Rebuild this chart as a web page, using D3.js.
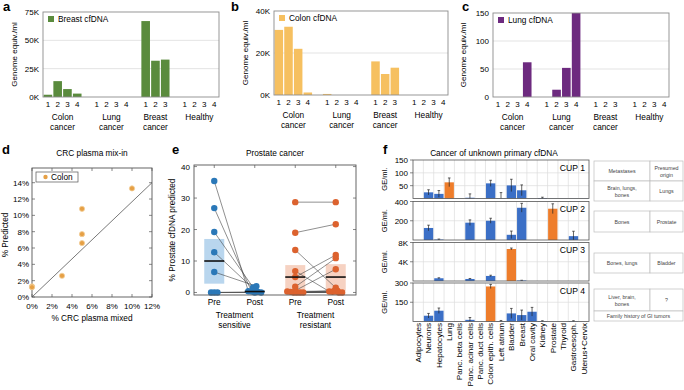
<!DOCTYPE html>
<html>
<head>
<meta charset="utf-8">
<script src="https://cdn.jsdelivr.net/npm/d3@7"></script>
<style>
body { margin: 0; background: #fff; }
svg { font-family: "Liberation Sans", Arial, Helvetica, sans-serif; }
</style>
</head>
<body>
<svg id="fig" width="684" height="390"></svg>
<script>
// ---- data: panels a-c (genome equivalents / ml) ----
const groupNames = [["Colon", "cancer"], ["Lung", "cancer"], ["Breast", "cancer"], ["Healthy"]];
const breastCf = [[2, 14, 7, 3], [0, 0, 0, 0], [67, 32, 33], [0, 0, 0, 0]];         // thousands
const colonCf  = [[31, 32.5, 22, 1.2], [0.5, 0, 0, 0], [16, 10, 13], [0, 0, 0, 0]];  // thousands
const lungCf   = [[0, 0, 0, 62], [0, 13, 52, 150], [0, 0, 0], [0, 0, 0, 0]];
const ticksA = [0, 25, 50, 75];
const ticksB = [0, 20, 40];
const ticksC = [0, 50, 100, 150];

// ---- data: panel d ----
const mixPct  = [0, 0, 3, 5, 5, 5, 10];
const predPct = [1.3, 1.2, 2.6, 6.6, 7.7, 10.8, 13.3];
const refLine = [[0, 0], [12, 14]];
const dTicksX = [0, 2, 4, 6, 8, 10, 12];
const dTicksY = [0, 2, 4, 6, 8, 10, 12, 14];

// ---- data: panel e ----
const eCats = ["sPre", "sPost", "rPre", "rPost"];
const eCatLabels = ["Pre", "Post", "Pre", "Post"];
const sensPre  = [35.4, 26.8, 19.2, 12.8, 6.5, 0, 0, 0];
const sensPost = [0.4, 0.3, 1.6, 0.8, 2.0, 0, 0.2, 0];
const resPre   = [28.7, 19.0, 13.5, 6.8, 4.9, 1.8, 0.6, 0.3, 0.2, 0, 0, 0, 0];
const resPost  = [28.7, 21.7, 1.5, 0.3, 11.9, 10.9, 7.4, 0.5, 0.2, 0.6, 0.3, 0, 0];
const boxLo  = [2.8, 0, 0.5, 0.5];
const boxHi  = [17, 0.8, 8.7, 9.0];
const boxMed = [10, 0.3, 4.9, 4.9];
const eTicks = [0, 10, 20, 30, 40];

// ---- data: panel f ----
const tissues = ["Adipocytes", "Neurons", "Hepatocytes", "Lung", "Panc. beta cells", "Panc. acinar cells",
  "Panc. duct cells", "Colon epith. cells", "Left atrium", "Bladder", "Breast", "Oral cavity", "Kidney",
  "Prostate", "Thyroid", "Gastroesoph.", "Uterus+Cervix"];
const cupNames = ["CUP 1", "CUP 2", "CUP 3", "CUP 4"];
const cup1 = [0, 24, 18, 63, 0.5, 3, 0.5, 59, 1, 51, 32, 0.5, 2, 0.5, 0.5, 0.5, 0.5];
const cup2 = [0, 125, 5, 0, 0, 180, 0, 200, 0, 54, 335, 0, 0, 325, 0, 40, 0];
const cup3 = [0, 0, 0.57, 0, 0, 0.42, 0, 1.05, 0, 6.65, 0.1, 0, 0, 0, 0, 0, 0];   // thousands
const cup4 = [0, 45, 84, 0, 0, 13, 0, 273, 3, 63, 50, 76, 3, 0, 0, 3, 0];
const cup1Err = [0, 10, 13, 17, 0, 15, 0, 12, 22, 24, 21, 0, 3, 0, 0, 0, 0];
const cup2Err = [0, 29, 5, 0, 0, 29, 0, 26, 0, 39, 46, 0, 0, 51, 0, 51, 0];
const cup3Err = [0, 0, 0.1, 0, 0, 0.1, 0, 0.15, 0, 0.2, 0.05, 0, 0, 0, 0, 0, 0];
const cup4Err = [0, 18, 21, 0, 0, 18, 0, 16, 5, 39, 39, 34, 3, 0, 0, 3, 0];
const cupTop = ["Lung", "Prostate", "Bladder", "Colon epith. cells"];
const cupMax = [150, 400, 8, 300];
const cupTicks = [[50, 100, 150], [200, 400], [4, 8], [150, 300]];
const cupTickSuffix = ["", "", "K", ""];
const cupMets = [["Brain, lungs,", "bones"], ["Bones"], ["Bones, lungs"], ["Liver, brain,", "bones"]];
const cupOrigin = ["Lungs", "Prostate", "Bladder", "?"];

const svg = d3.select("#fig");
const FS = 8.3;
const gridCol = "#dcdcdc";
const frameCol = "#8c8c8c";

function letter(t, x, y) {
  svg.append("text").attr("x", x).attr("y", y).attr("font-size", 13).attr("font-weight", "bold").text(t);
}

// ================= panels a, b, c =================
function cfPanel(o) {
  const slots = [];
  o.values.forEach((grp, gi) => {
    grp.forEach((v, si) => slots.push({ key: gi + "-" + si, g: gi, n: si + 1, v: v }));
    if (gi < o.values.length - 1) slots.push({ key: "gap" + gi, gap: true });
  });
  const max = o.ticks[o.ticks.length - 1];
  const x = d3.scaleBand().domain(slots.map(d => d.key)).range([o.x0, o.x1]).paddingInner(0.12).paddingOuter(0.06);
  const y = d3.scaleLinear().domain([0, max]).range([o.y1, o.y0]);
  const g = svg.append("g");

  g.selectAll(".grid").data(o.ticks.slice(1, -1)).enter().append("line")
    .attr("x1", o.x0).attr("x2", o.x1).attr("y1", d => y(d)).attr("y2", d => y(d))
    .attr("stroke", gridCol).attr("stroke-width", 0.8);

  const real = slots.filter(d => !d.gap);
  g.selectAll("rect.bar").data(real.filter(d => d.v > 0)).enter().append("rect")
    .attr("x", d => x(d.key)).attr("width", x.bandwidth())
    .attr("y", d => y(Math.min(d.v, max))).attr("height", d => y(0) - y(Math.min(d.v, max)))
    .attr("fill", o.color);

  g.append("rect").attr("x", o.x0).attr("y", o.y0).attr("width", o.x1 - o.x0).attr("height", o.y1 - o.y0)
    .attr("fill", "none").attr("stroke", frameCol).attr("stroke-width", 0.9);

  g.selectAll(".yt").data(o.ticks).enter().append("text")
    .attr("x", o.x0 - 4).attr("y", d => y(d) + 3).attr("text-anchor", "end").attr("font-size", 8)
    .text(d => d + o.suffix);

  g.selectAll(".xt").data(real).enter().append("text")
    .attr("x", d => x(d.key) + x.bandwidth() / 2).attr("y", o.y1 + 9.5).attr("text-anchor", "middle")
    .attr("font-size", 8).text(d => d.n);

  groupNames.forEach((lines, gi) => {
    const gs = real.filter(d => d.g === gi);
    const cx = d3.mean(gs, d => x(d.key) + x.bandwidth() / 2);
    lines.forEach((ln, li) => {
      g.append("text").attr("x", cx).attr("y", o.y1 + 23 + li * 10).attr("text-anchor", "middle")
        .attr("font-size", FS).text(ln);
    });
  });

  g.append("text").attr("transform", `translate(${o.labelX},${(o.y0 + o.y1) / 2}) rotate(-90)`)
    .attr("text-anchor", "middle").attr("font-size", 8).text("Genome equiv./ml");

  g.append("rect").attr("x", o.x0 + 5).attr("y", o.y0 + 4).attr("width", 6).attr("height", 6).attr("fill", o.color);
  g.append("text").attr("x", o.x0 + 15).attr("y", o.y0 + 10).attr("font-size", FS).text(o.legend);
}

letter("a", 3, 11);
cfPanel({ values: breastCf, ticks: ticksA, suffix: "K", x0: 43, x1: 219, y0: 12, y1: 97,
  color: "#5a8b3d", legend: "Breast cfDNA", labelX: 17 });
letter("b", 231, 11);
cfPanel({ values: colonCf, ticks: ticksB, suffix: "K", x0: 274, x1: 448, y0: 11, y1: 95,
  color: "#f6c060", legend: "Colon cfDNA", labelX: 248 });
letter("c", 462, 11);
cfPanel({ values: lungCf, ticks: ticksC, suffix: "", x0: 493, x1: 669, y0: 13, y1: 97,
  color: "#6d2a7f", legend: "Lung cfDNA", labelX: 466 });

// ================= panel d =================
letter("d", 2, 154);
const xd = d3.scaleLinear().domain([0, 12]).range([32, 152]);
const yd = d3.scaleLinear().domain([0, 15.8]).range([297, 168]);
const gd = svg.append("g");
gd.append("text").attr("x", 92).attr("y", 156).attr("text-anchor", "middle").attr("font-size", FS).text("CRC plasma mix-in");
gd.append("rect").attr("x", 32).attr("y", 168).attr("width", 120).attr("height", 129)
  .attr("fill", "none").attr("stroke", "#555").attr("stroke-width", 0.9);
dTicksX.forEach(t => {
  gd.append("line").attr("x1", xd(t)).attr("x2", xd(t)).attr("y1", 297).attr("y2", 294).attr("stroke", "#555").attr("stroke-width", 0.7);
  gd.append("line").attr("x1", xd(t)).attr("x2", xd(t)).attr("y1", 168).attr("y2", 171).attr("stroke", "#555").attr("stroke-width", 0.7);
  gd.append("text").attr("x", xd(t)).attr("y", 309).attr("text-anchor", "middle").attr("font-size", 8).text(t + "%");
});
dTicksY.forEach(t => {
  gd.append("line").attr("x1", 32).attr("x2", 35).attr("y1", yd(t)).attr("y2", yd(t)).attr("stroke", "#555").attr("stroke-width", 0.7);
  gd.append("line").attr("x1", 152).attr("x2", 149).attr("y1", yd(t)).attr("y2", yd(t)).attr("stroke", "#555").attr("stroke-width", 0.7);
  gd.append("text").attr("x", 29).attr("y", yd(t) + 3).attr("text-anchor", "end").attr("font-size", 8).text(t + "%");
});
gd.append("line").attr("x1", xd(refLine[0][0])).attr("y1", yd(refLine[0][1]))
  .attr("x2", xd(refLine[1][0])).attr("y2", yd(refLine[1][1])).attr("stroke", "#555").attr("stroke-width", 0.8);
gd.selectAll("circle").data(mixPct).enter().append("circle")
  .attr("cx", d => xd(d)).attr("cy", (d, i) => yd(predPct[i])).attr("r", 2.6)
  .attr("fill", "#e6a045").attr("stroke", "#f3cf9a").attr("stroke-width", 0.8);
gd.append("rect").attr("x", 36).attr("y", 172).attr("width", 42).attr("height", 10)
  .attr("fill", "#fff").attr("stroke", "#555").attr("stroke-width", 0.7);
gd.append("circle").attr("cx", 45.5).attr("cy", 177).attr("r", 2.2).attr("fill", "#e6a045");
gd.append("text").attr("x", 51).attr("y", 180).attr("font-size", FS).text("Colon");
gd.append("text").attr("x", 92).attr("y", 321).attr("text-anchor", "middle").attr("font-size", FS).text("% CRC plasma mixed");
gd.append("text").attr("transform", "translate(8,235) rotate(-90)").attr("text-anchor", "middle").attr("font-size", FS).text("% Predicted");

// ================= panel e =================
letter("e", 172, 154);
const xe = d3.scalePoint().domain(eCats).range([194, 356]).padding(0.5);
const ye = d3.scaleLinear().domain([-0.8, 40.5]).range([295, 165]);
const ge = svg.append("g");
const blue = "#2a78b8", orange = "#dc622e";
ge.append("text").attr("x", 275).attr("y", 156).attr("text-anchor", "middle").attr("font-size", FS).text("Prostate cancer");

// boxes
eCats.forEach((c, i) => {
  const col = i < 2 ? "#b9d6ee" : "#f6d2c2";
  ge.append("rect").attr("x", xe(c) - 10).attr("width", 20)
    .attr("y", ye(boxHi[i])).attr("height", ye(boxLo[i]) - ye(boxHi[i])).attr("fill", col);
});

function jitter(vals) {
  // spread points that sit on top of each other
  const seen = {};
  return vals.map(v => {
    const k = Math.round(v);
    seen[k] = (seen[k] || 0) + 1;
    return seen[k];
  }).map((n, i) => {
    const k = Math.round(vals[i]);
    const tot = vals.filter(v => Math.round(v) === k).length;
    return tot > 1 ? (n - (tot + 1) / 2) * 3.2 : 0;
  });
}
function pairs(pre, post, c0, c1, col) {
  const j0 = jitter(pre), j1 = jitter(post);
  pre.forEach((v, i) => {
    ge.append("line").attr("x1", xe(c0) + j0[i]).attr("y1", ye(v)).attr("x2", xe(c1) + j1[i]).attr("y2", ye(post[i]))
      .attr("stroke", "#444").attr("stroke-width", 0.6);
  });
  [[pre, c0, j0], [post, c1, j1]].forEach(([arr, c, j]) => {
    ge.selectAll(null).data(arr).enter().append("circle")
      .attr("cx", (d, i) => xe(c) + j[i]).attr("cy", d => ye(d)).attr("r", 3.2).attr("fill", col);
  });
}
pairs(sensPre, sensPost, "sPre", "sPost", blue);
pairs(resPre, resPost, "rPre", "rPost", orange);

eCats.forEach((c, i) => {
  ge.append("line").attr("x1", xe(c) - 10).attr("x2", xe(c) + 10).attr("y1", ye(boxMed[i])).attr("y2", ye(boxMed[i]))
    .attr("stroke", "#111").attr("stroke-width", 1.6);
});

ge.append("rect").attr("x", 194).attr("y", 165).attr("width", 162).attr("height", 130)
  .attr("fill", "none").attr("stroke", "#555").attr("stroke-width", 0.9);
eTicks.forEach(t => {
  ge.append("line").attr("x1", 194).attr("x2", 197).attr("y1", ye(t)).attr("y2", ye(t)).attr("stroke", "#555").attr("stroke-width", 0.7);
  ge.append("line").attr("x1", 356).attr("x2", 353).attr("y1", ye(t)).attr("y2", ye(t)).attr("stroke", "#555").attr("stroke-width", 0.7);
  ge.append("text").attr("x", 190).attr("y", ye(t) + 3).attr("text-anchor", "end").attr("font-size", 8).text(t);
});
eCats.forEach((c, i) => {
  ge.append("line").attr("x1", xe(c)).attr("x2", xe(c)).attr("y1", 165).attr("y2", 168).attr("stroke", "#555").attr("stroke-width", 0.7);
  ge.append("text").attr("x", xe(c)).attr("y", 305).attr("text-anchor", "middle").attr("font-size", FS).text(eCatLabels[i]);
});
[["Treatment", "sensitive"], ["Treatment", "resistant"]].forEach((lines, gi) => {
  const cx = (xe(eCats[gi * 2]) + xe(eCats[gi * 2 + 1])) / 2;
  lines.forEach((ln, li) => ge.append("text").attr("x", cx).attr("y", 318 + li * 10)
    .attr("text-anchor", "middle").attr("font-size", FS).text(ln));
});
ge.append("text").attr("transform", "translate(175,230) rotate(-90)").attr("text-anchor", "middle")
  .attr("font-size", FS).text("% Prostate cfDNA predicted");

// ================= panel f =================
letter("f", 383, 154);
const gf = svg.append("g");
gf.append("text").attr("x", 494).attr("y", 156).attr("text-anchor", "middle").attr("font-size", FS)
  .text("Cancer of unknown primary cfDNA");
const xf = d3.scaleBand().domain(tissues).range([413, 589]).paddingInner(0.1).paddingOuter(0.05);
const cupVals = [cup1, cup2, cup3, cup4];
const cupErrs = [cup1Err, cup2Err, cup3Err, cup4Err];
const subTop = [160, 201.5, 242.5, 283];
const subH = 38.5;

cupVals.forEach((vals, ci) => {
  const top = subTop[ci], bot = top + subH;
  const y = d3.scaleLinear().domain([0, cupMax[ci]]).range([bot, top]);
  const g = gf.append("g");
  // grid
  tissues.forEach((t, i) => {
    if (i === 0) return;
    const gx = xf(t) - xf.step() * xf.paddingInner() / 2;
    g.append("line").attr("x1", gx).attr("x2", gx).attr("y1", top).attr("y2", bot).attr("stroke", gridCol).attr("stroke-width", 0.7);
  });
  cupTicks[ci].slice(0, -1).forEach(t => {
    g.append("line").attr("x1", 413).attr("x2", 589).attr("y1", y(t)).attr("y2", y(t)).attr("stroke", gridCol).attr("stroke-width", 0.7);
  });
  // bars
  g.selectAll("rect.bar").data(tissues).enter().append("rect")
    .attr("x", d => xf(d)).attr("width", xf.bandwidth())
    .attr("y", (d, i) => y(vals[i])).attr("height", (d, i) => y(0) - y(vals[i]))
    .attr("fill", d => d === cupTop[ci] ? "#ee7d2b" : "#3b6fc6");
  // error bars
  tissues.forEach((t, i) => {
    const e = cupErrs[ci][i];
    if (!e) return;
    const cx = xf(t) + xf.bandwidth() / 2;
    const hi = Math.min(vals[i] + e, cupMax[ci]), lo = Math.max(vals[i] - e, 0);
    g.append("line").attr("x1", cx).attr("x2", cx).attr("y1", y(lo)).attr("y2", y(hi)).attr("stroke", "#222").attr("stroke-width", 0.7);
    g.append("line").attr("x1", cx - 1.3).attr("x2", cx + 1.3).attr("y1", y(hi)).attr("y2", y(hi)).attr("stroke", "#222").attr("stroke-width", 0.7);
  });
  g.append("rect").attr("x", 413).attr("y", top).attr("width", 176).attr("height", subH)
    .attr("fill", "none").attr("stroke", "#555").attr("stroke-width", 0.8);
  cupTicks[ci].forEach(t => {
    g.append("line").attr("x1", 413).attr("x2", 410).attr("y1", y(t)).attr("y2", y(t)).attr("stroke", "#555").attr("stroke-width", 0.7);
    g.append("text").attr("x", 408).attr("y", y(t) + 3).attr("text-anchor", "end").attr("font-size", 8)
      .text(t + cupTickSuffix[ci]);
  });
  g.append("text").attr("x", 585).attr("y", top + 10.5).attr("text-anchor", "end").attr("font-size", 8.6).text(cupNames[ci]);
  g.append("text").attr("transform", `translate(387,${top + subH / 2}) rotate(-90)`).attr("text-anchor", "middle")
    .attr("font-size", 7.5).text("GE/ml.");
});

gf.selectAll("text.tl").data(tissues).enter().append("text")
  .attr("transform", d => `translate(${xf(d) + xf.bandwidth() / 2},323) rotate(-90)`)
  .attr("text-anchor", "end").attr("dy", "0.35em").attr("font-size", 8.1).text(d => d);

// tables
const tbX0 = 594, tbX1 = 683, tbMid = 650, tFS = 5.3;
const tableCol = "#bdbdbd";
function cell(x0, x1, y0, y1, lines) {
  gf.append("rect").attr("x", x0).attr("y", y0).attr("width", x1 - x0).attr("height", y1 - y0)
    .attr("fill", "#fff").attr("stroke", tableCol).attr("stroke-width", 0.7);
  const cy = (y0 + y1) / 2;
  lines.forEach((ln, li) => gf.append("text").attr("x", (x0 + x1) / 2)
    .attr("y", cy + 2 + (li - (lines.length - 1) / 2) * 7).attr("text-anchor", "middle")
    .attr("font-size", tFS).attr("fill", "#444").text(ln));
}
const tblRows = [[181, 201], [211, 232], [253, 273], [289, 311]];
cell(tbX0, tbMid, 161, 181, ["Metastases"]);
cell(tbMid, tbX1, 161, 181, ["Presumed", "origin"]);
tblRows.forEach((r, i) => {
  cell(tbX0, tbMid, r[0], r[1], cupMets[i]);
  cell(tbMid, tbX1, r[0], r[1], [cupOrigin[i]]);
});
cell(tbX0, tbX1, 311, 321, ["Family history of GI tumors"]);
</script>
</body>
</html>
